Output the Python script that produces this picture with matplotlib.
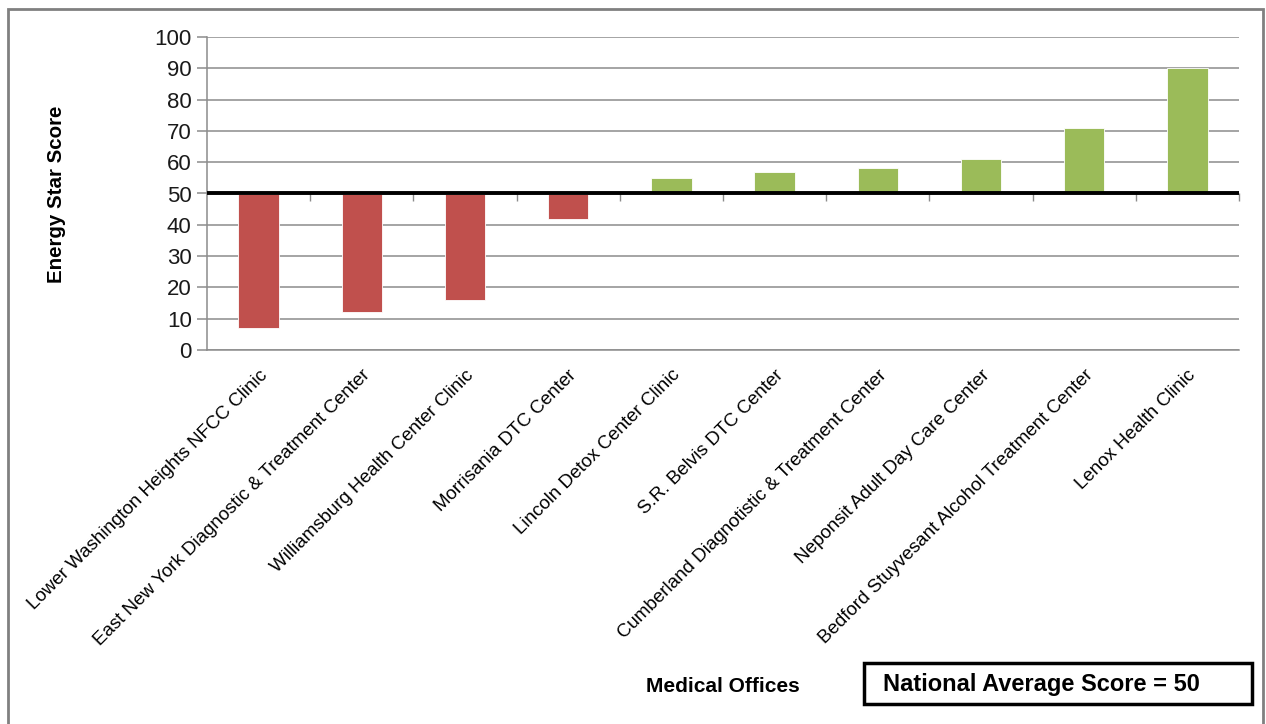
import matplotlib
matplotlib.use('Agg')
import matplotlib.pyplot as plt
from matplotlib.patches import Rectangle
import numpy as np

# данные
offices = ['Lower Washington Heights NFCC Clinic',
           'East New York Diagnostic & Treatment Center',
           'Williamsburg Health Center Clinic',
           'Morrisania DTC Center',
           'Lincoln Detox Center Clinic',
           'S.R. Belvis DTC Center',
           'Cumberland Diagnotistic & Treatment Center',
           'Neponsit Adult Day Care Center',
           'Bedford Stuyvesant Alcohol Treatment Center',
           'Lenox Health Clinic']
scores = [7, 12, 16, 42, 55, 57, 58, 61, 71, 90]
national_avg = 50
y_ticks = list(range(0, 101, 10))

red = '#C0504D'
green = '#9BBB59'
grid_c = '#8C8C8C'

plt.rcParams['font.family'] = ['Liberation Sans', 'DejaVu Sans']

fig = plt.figure(figsize=(12.66, 7.24), dpi=100)
ax = fig.add_axes([207/1266, 1 - 350/724, (1239-207)/1266, (350-37)/724])

x = np.arange(len(offices))
vals = np.array(scores)
colors = [red if v < national_avg else green for v in vals]
ax.bar(x, vals - national_avg, bottom=national_avg, width=0.39,
       color=colors, edgecolor='white', linewidth=0.6, zorder=3)

# ось на уровне средней оценки
ax.axhline(national_avg, color='black', lw=2.8, zorder=4)
bounds = np.arange(len(offices) + 1) - 0.5
ax.vlines(bounds[1:], national_avg - 2.3, national_avg, color=grid_c, lw=1,
          zorder=2, clip_on=False)

ax.set_xlim(-0.5, len(offices) - 0.5)
ax.set_ylim(0, 100)
ax.set_yticks(y_ticks)
ax.set_yticklabels([str(t) for t in y_ticks], fontsize=16, color='#1a1a1a')
ax.yaxis.grid(True, color=grid_c, lw=1.1)
ax.set_axisbelow(True)
ax.tick_params(axis='y', length=7, color=grid_c, width=1.1, pad=4)

ax.set_xticks(x)
ax.set_xticklabels(offices, rotation=45, ha='right', rotation_mode='anchor',
                   fontsize=13.5)
ax.tick_params(axis='x', length=0, pad=12)

for s in ['top', 'right']:
    ax.spines[s].set_visible(False)
ax.spines['left'].set_color(grid_c)
ax.spines['bottom'].set_color(grid_c)
ax.spines['left'].set_linewidth(1.1)
ax.spines['bottom'].set_linewidth(1.1)

fig.text(57/1266, 1 - 194/724, 'Energy Star Score', rotation=90, fontsize=14.8,
         fontweight='bold', ha='center', va='center')
fig.text(723/1266, 1 - 686/724, 'Medical Offices', fontsize=15,
         fontweight='bold', ha='center', va='center')

# рамка с национальным средним
fig.patches.append(Rectangle((864/1266, 1 - 704/724), (1252-864)/1266, 41/724,
                             transform=fig.transFigure, fill=False,
                             edgecolor='black', lw=2.5))
fig.text(883/1266, 1 - 685/724, 'National Average Score = 50', fontsize=17,
         fontweight='bold', ha='left', va='center')

# внешняя рамка
fig.patches.append(Rectangle((8/1266, -0.01), (1263-8)/1266, 1 - 9/724 + 0.01,
                             transform=fig.transFigure, fill=False,
                             edgecolor='#808080', lw=2))

fig.savefig('out.png', dpi=100)
